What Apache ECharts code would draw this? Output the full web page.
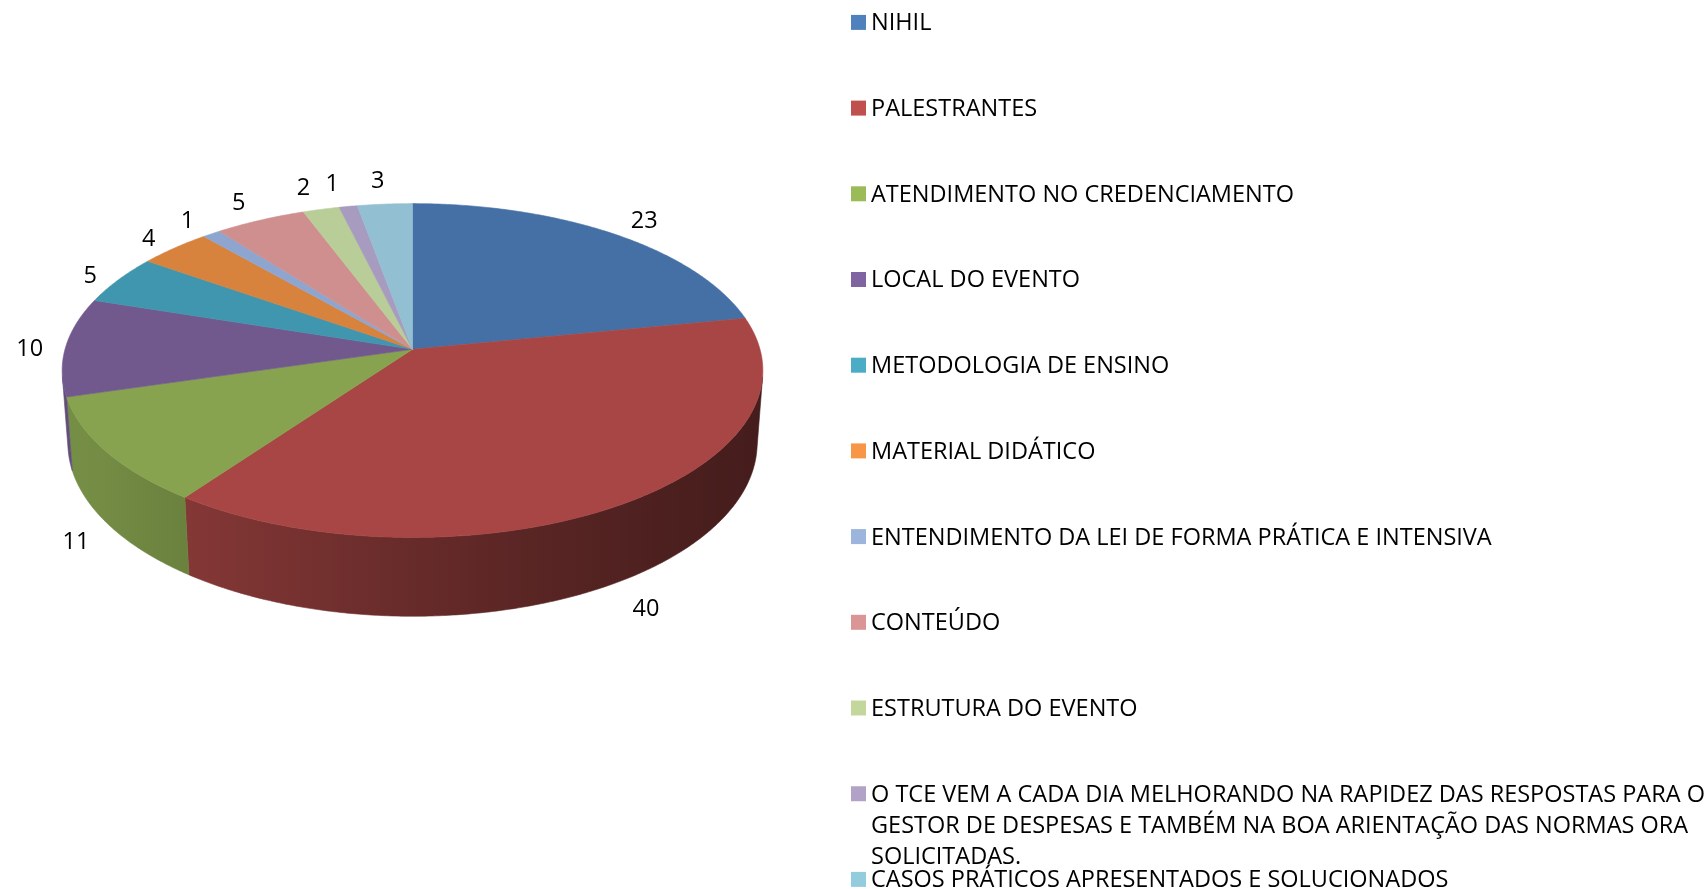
<!DOCTYPE html>
<html>
<head>
<meta charset="utf-8">
<title>Avaliação do evento</title>
<script src="https://cdn.jsdelivr.net/npm/echarts@6/dist/echarts.min.js"></script>
<style>
  html, body { margin: 0; padding: 0; background: #ffffff; }
  #chart { width: 1706px; height: 889px; }
</style>
</head>
<body>
<div id="chart"></div>
<script>
// Long legend entry, kept as its printed lines
const longLegendLines = [
  'O TCE VEM A CADA DIA MELHORANDO NA RAPIDEZ DAS RESPOSTAS PARA O',
  'GESTOR DE DESPESAS E TAMBÉM NA BOA ARIENTAÇÃO DAS NORMAS ORA',
  'SOLICITADAS.'
];

const categories = [
  'NIHIL',
  'PALESTRANTES',
  'ATENDIMENTO NO CREDENCIAMENTO',
  'LOCAL DO EVENTO',
  'METODOLOGIA DE ENSINO',
  'MATERIAL DIDÁTICO',
  'ENTENDIMENTO DA LEI DE FORMA PRÁTICA E INTENSIVA',
  'CONTEÚDO',
  'ESTRUTURA DO EVENTO',
  longLegendLines.join(' '),
  'CASOS PRÁTICOS APRESENTADOS E SOLUCIONADOS'
];

const values = [23, 40, 11, 10, 5, 4, 1, 5, 2, 1, 3];

// Legend swatch colours and the lit top-face colours of each slice
const legendColors = ['#4F81BD', '#C0504D', '#9BBB59', '#8064A2', '#4BACC6', '#F79646',
                      '#9DB4DC', '#D99694', '#C3D69B', '#B3A2C7', '#93CDDD'];
const topColors = ['#4470A5', '#A74644', '#87A34F', '#71598D', '#3F96AE', '#D7823D',
                   '#8EA6CF', '#CE8F8E', '#B8CD97', '#A79BC0', '#92BFD1'];

// ---- 3D pie geometry (perspective view of a flat cylinder) ----
const CX = 412.5, CY = 349.3;      // projected pie centre
const RADIUS = 347.5;
const TILT = 28.2 * Math.PI / 180;
const VIEW_DIST = 2409;
const DEPTH = 83;                  // cylinder height
const FONT_SIZE = 23.5;
const LABEL_FONT = FONT_SIZE + 'px "Open Sans"';
const DIGIT_W = 13.4;

const total = values.reduce((a, b) => a + b, 0);
const cosT = Math.cos(TILT), sinT = Math.sin(TILT);

function project(r, deg, yw) {
  const p = deg * Math.PI / 180;
  const X = r * Math.sin(p), Z = r * Math.cos(p);
  const v = yw * cosT + Z * sinT;
  const w = Z * cosT - yw * sinT;
  const s = VIEW_DIST / (VIEW_DIST + w);
  return [CX + X * s, CY - v * s];
}

// angular range of the outer wall that faces the viewer
const wallLimit = Math.acos(-RADIUS / (VIEW_DIST * cosT)) * 180 / Math.PI;
const wallFrom = wallLimit, wallTo = 360 - wallLimit;

function mix(hex, f) {
  const n = parseInt(hex.slice(1), 16);
  const r = Math.min(255, Math.round(((n >> 16) & 255) * f));
  const g = Math.min(255, Math.round(((n >> 8) & 255) * f));
  const b = Math.min(255, Math.round((n & 255) * f));
  return 'rgb(' + r + ',' + g + ',' + b + ')';
}

// light comes from the front-left
function wallShade(deg) {
  const p = deg * Math.PI / 180, beta = 20 * Math.PI / 180;
  const dot = -Math.sin(p) * Math.cos(beta) - Math.cos(p) * Math.sin(beta);
  const h = (dot + 1) / 2;
  return 0.41 + 0.46 * h * h;
}

function arc(from, to, yw, r) {
  const pts = [];
  const n = Math.max(2, Math.ceil((to - from) / 0.5));
  for (let k = 0; k <= n; k++) pts.push(project(r, from + (to - from) * k / n, yw));
  return pts;
}

function makeRenderer(i) {
  return function (params, api) {
    const before = values.slice(0, i).reduce((a, b) => a + b, 0);
    const a0 = before / total * 360;
    const a1 = (before + api.value(0)) / total * 360;
    const children = [];

    // outer wall
    const lo = Math.max(a0, wallFrom), hi = Math.min(a1, wallTo);
    if (hi > lo) {
      const topArc = arc(lo, hi, 0, RADIUS);
      const botArc = arc(lo, hi, -DEPTH, RADIUS).reverse();
      const pts = topArc.concat(botArc);
      let minX = Infinity, maxX = -Infinity;
      pts.forEach(p => { minX = Math.min(minX, p[0]); maxX = Math.max(maxX, p[0]); });
      const stops = [];
      const n = Math.max(2, Math.ceil((hi - lo) / 2));
      for (let k = 0; k <= n; k++) {
        const d = lo + (hi - lo) * k / n;
        const x = project(RADIUS, d, 0)[0];
        stops.push({ offset: Math.min(1, Math.max(0, (x - minX) / (maxX - minX))),
                     color: mix(topColors[i], wallShade(d)) });
      }
      stops.sort((s1, s2) => s1.offset - s2.offset);
      const grad = { type: 'linear', x: 0, y: 0, x2: 1, y2: 0, colorStops: stops };
      children.push({
        type: 'polygon', z2: 1,
        shape: { points: pts },
        style: { fill: grad, stroke: grad, lineWidth: 0.6 }
      });
    }

    // top face
    const face = [[CX, CY]].concat(arc(a0, a1, 0, RADIUS));
    children.push({
      type: 'polygon', z2: 10,
      shape: { points: face },
      style: { fill: topColors[i], stroke: topColors[i], lineWidth: 0.6 }
    });

    // value label outside the slice
    const mid = (a0 + a1) / 2;
    const mp = mid * Math.PI / 180;
    const sn = Math.sin(mp), cs = Math.cos(mp);
    const drop = -DEPTH * Math.min(1, Math.max(0, -cs * 5));
    const anchor = project(RADIUS * 1.08, mid, drop);
    const txt = String(api.value(0));
    const halfW = txt.length * DIGIT_W / 2;
    const push = cs > 0
      ? (halfW - 5.3 + 10.4 * cs) * Math.min(1, Math.abs(sn) * 5)
      : halfW - 4.3;
    const dx = Math.sign(sn) * push;
    const dy = -16 * Math.pow(cs, 3) + 3;
    children.push({
      type: 'text', z2: 20,
      x: anchor[0] + dx, y: anchor[1] + dy,
      style: { text: txt, fill: '#000000', font: LABEL_FONT, align: 'center', verticalAlign: 'middle' }
    });

    return { type: 'group', children: children };
  };
}

// legend rows: one component per row so the wrapped entry can overflow like the original
const ROW_START = 22.4, ROW_STEP = 85.7, LINE_H = 31, SWATCH = 15;
const CAP_SHIFT = -1.3, BOX_PAD = 3;
const legends = categories.map((name, i) => {
  const centre = ROW_START + ROW_STEP * i;
  const lines = name === categories[9] ? longLegendLines.length : 1;
  // item box tall enough for the text block; swatch placed level with the first line
  const boxH = 2 * ((lines - 1) * LINE_H / 2 + SWATCH / 2 + BOX_PAD);
  const swatchTop = BOX_PAD + CAP_SHIFT;
  const icon = 'path://M0,0L0,0M0,' + swatchTop + 'h' + SWATCH + 'v' + SWATCH + 'h-' + SWATCH + 'Z' +
               'M0,' + boxH + 'L0,' + boxH;
  const relTop = Math.min(0, boxH / 2 - lines * LINE_H / 2);
  return {
    data: [name],
    orient: 'vertical',
    left: 851,
    top: centre - SWATCH / 2 - swatchTop + relTop,
    padding: 0,
    itemWidth: SWATCH,
    itemHeight: boxH,
    itemGap: 0,
    icon: icon,
    selectedMode: false,
    formatter: n => (n === categories[9] ? longLegendLines.join('\n') : n),
    textStyle: {
      fontFamily: 'Open Sans',
      fontSize: FONT_SIZE,
      color: '#000000',
      lineHeight: LINE_H
    }
  };
});

const chart = echarts.init(document.getElementById('chart'), null, { renderer: 'canvas' });
chart.setOption({
  animation: false,
  backgroundColor: '#ffffff',
  legend: legends,
  series: categories.map((name, i) => ({
    type: 'custom',
    name: name,
    coordinateSystem: 'none',
    itemStyle: { color: legendColors[i] },
    data: [[values[i]]],
    renderItem: makeRenderer(i)
  }))
});
</script>
</body>
</html>
